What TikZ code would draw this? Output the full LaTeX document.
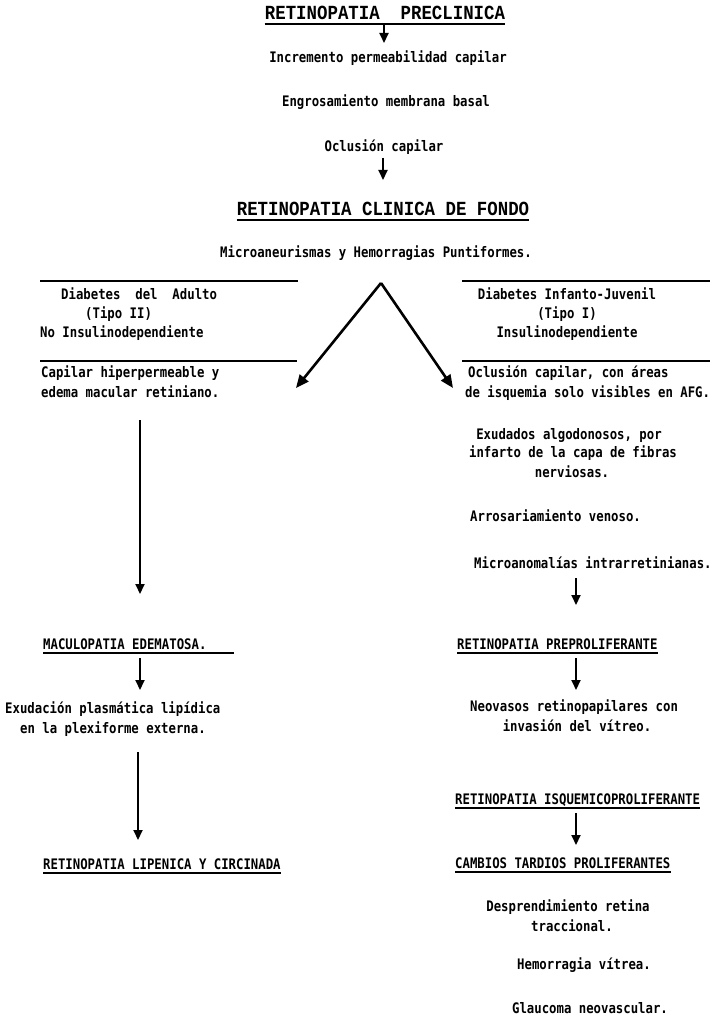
\documentclass[tikz,border=0pt]{standalone}
\usepackage{fontspec}
\usetikzlibrary{arrows.meta,calc}
\newfontfamily\bodyf[FakeStretch=0.85,BoldFont={DejaVu Sans Mono Bold}]{DejaVu Sans Mono}
\newfontfamily\headf[FakeStretch=0.87,BoldFont={Liberation Mono Bold}]{Liberation Mono}
\tikzset{
  txt/.style={font=\bodyf\bfseries\fontsize{14.5}{17}\selectfont, inner sep=0pt, anchor=base west},
  txtc/.style={txt, anchor=base},
  hd/.style={font=\headf\bfseries\fontsize{20}{24}\selectfont, inner sep=0pt, anchor=base},
  uline/.style={line width=1.5pt},
  rule/.style={line width=1.6pt},
  arr/.style={line width=2pt, -{Triangle[length=10pt,width=9pt]}},
  diag/.style={line width=2.6pt, -{Triangle[length=13pt,width=11pt]}},
}
\begin{document}
\begin{tikzpicture}[x=1pt,y=-1pt]
\useasboundingbox (0,0) rectangle (710,1024);
% ---- top section
\node[hd] (h1) at (385,20) {RETINOPATIA\ \ PRECLINICA};
\draw[uline] ([yshift=-4pt]h1.base west) -- ([yshift=-4pt]h1.base east);
\node[txtc] (inc) at (388,63) {Incremento permeabilidad capilar};
\node[txtc] (eng) at (386,107) {Engrosamiento membrana basal};
\node[txtc] (ocl) at (384,152) {Oclusión capilar};
\node[hd] (h2) at (383,216) {RETINOPATIA CLINICA DE FONDO};
\draw[uline] ([yshift=-4pt]h2.base west) -- ([yshift=-4pt]h2.base east);
\node[txtc] (mic) at (376,258) {Microaneurismas y Hemorragias Puntiformes.};
\draw[arr] ($(h1.base)+(-1pt,-4pt)$) -- ($(inc.base)+(-4pt,20pt)$);
\draw[arr] ($(ocl.base)+(-1pt,-6pt)$) -- ($(h2.base)+(0pt,36pt)$);
% ---- left block
\draw[rule] (40,281) -- (298,281);
\node[txt] (dad) at (61,299) {Diabetes\ \ del\ \ Adulto};
\node[txt] (t2) at (85,318) {(Tipo II)};
\node[txt] (nid) at (40,337) {No Insulinodependiente};
\draw[rule] (40,361) -- (297,361);
\node[txt] (cap) at (41,377) {Capilar hiperpermeable y};
\node[txt] (ede) at (41,397) {edema macular retiniano.};
% ---- right block
\draw[rule] (462,281) -- (710,281);
\node[txtc] (dij) at (567,299) {Diabetes Infanto-Juvenil};
\node[txtc] (t1) at (567,318) {(Tipo I)};
\node[txtc] (idp) at (567,337) {Insulinodependiente};
\draw[rule] (462,361) -- (710,361);
\node[txt] (oc2) at (468,377) {Oclusión capilar, con áreas};
\node[txt] (isq) at (465,397) {de isquemia solo visibles en AFG.};
\node[txtc] (exa) at (569,439) {Exudados algodonosos, por};
\node[txtc] (inf) at (573,457) {infarto de la capa de fibras};
\node[txtc] (ner) at (572,477) {nerviosas.};
\node[txt] (aro) at (470,521) {Arrosariamiento venoso.};
\node[txt] (mano) at (474,568) {Microanomalías intrarretinianas.};
\node[txt] (prep) at (457,649) {RETINOPATIA PREPROLIFERANTE};
\draw[uline] ([yshift=-4pt]prep.base west) -- ([yshift=-4pt]prep.base east);
\node[txt] (neo) at (470,711) {Neovasos retinopapilares con};
\node[txtc] (inv) at (577,731) {invasión del vítreo.};
\node[txt] (isqp) at (455,804) {RETINOPATIA ISQUEMICOPROLIFERANTE};
\draw[uline] ([yshift=-4pt]isqp.base west) -- ([yshift=-4pt]isqp.base east);
\node[txt] (camb) at (455,868) {CAMBIOS TARDIOS PROLIFERANTES};
\draw[uline] ([yshift=-4pt]camb.base west) -- ([yshift=-4pt]camb.base east);
\node[txtc] (des) at (568,911) {Desprendimiento retina};
\node[txtc] (tra) at (572,931) {traccional.};
\node[txtc] (hem) at (584,969) {Hemorragia vítrea.};
\node[txtc] (gla) at (590,1013) {Glaucoma neovascular.};
% ---- left column lower
\node[txt] (macu) at (43,649) {MACULOPATIA EDEMATOSA.};
\draw[uline] ([yshift=-4pt]macu.base west) -- ([xshift=27pt,yshift=-4pt]macu.base east);
\node[txt] (exu) at (5,713) {Exudación plasmática lipídica};
\node[txt] (ple) at (20,733) {en la plexiforme externa.};
\node[txt] (lip) at (43,869) {RETINOPATIA LIPENICA Y CIRCINADA};
\draw[uline] ([yshift=-4pt]lip.base west) -- ([yshift=-4pt]lip.base east);
% ---- arrows
\coordinate (xL) at (140,0);
\coordinate (xL2) at (138,0);
\coordinate (xR) at (576,0);
\coordinate (apex) at (381,283);
\coordinate (ltip) at (296,388);
\coordinate (rtip) at (453,388);
\draw[diag] (apex) -- (ltip);
\draw[diag] (apex) -- (rtip);
\draw[arr] ($(ede.base west -| xL)+(0,-23pt)$) -- ($(macu.base west -| xL)+(0,55pt)$);
\draw[arr] ($(macu.base west -| xL)+(0,-9pt)$) -- ($(exu.base west -| xL)+(0,23pt)$);
\draw[arr] ($(ple.base west -| xL2)+(0,-19pt)$) -- ($(lip.base west -| xL2)+(0,29pt)$);
\draw[arr] ($(mano.base west -| xR)+(0,-10pt)$) -- ($(prep.base west -| xR)+(0,44pt)$);
\draw[arr] ($(prep.base west -| xR)+(0,-9pt)$) -- ($(neo.base west -| xR)+(0,21pt)$);
\draw[arr] ($(isqp.base west -| xR)+(0,-9pt)$) -- ($(camb.base west -| xR)+(0,23pt)$);
\end{tikzpicture}
\end{document}
